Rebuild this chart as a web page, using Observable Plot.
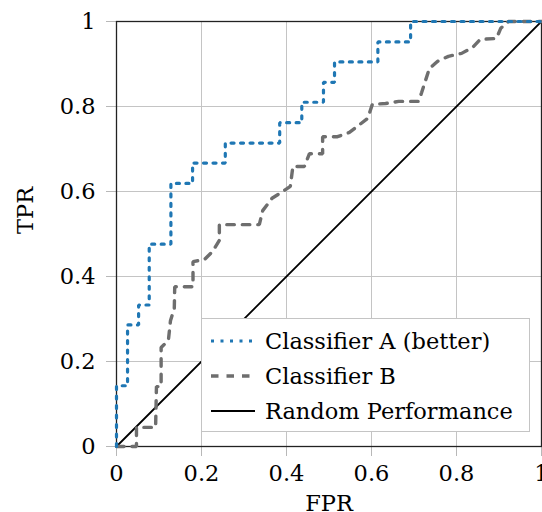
<!DOCTYPE html>
<html>
<head>
<meta charset="utf-8">
<script src="https://cdn.jsdelivr.net/npm/d3@7"></script>
<script src="https://cdn.jsdelivr.net/npm/@observablehq/plot@0.6"></script>
<style>
  body { margin: 0; background: #fff; }
  #wrap { position: relative; width: 542px; height: 512px; overflow: hidden; font-family: "DejaVu Serif", serif; }
  #legend { position: absolute; left: 201px; top: 318px; width: 329px; height: 114px; box-sizing: border-box;
            border: 1px solid #c4c4c4; background: #fff; }
  .entry { position: absolute; left: 9px; height: 30px; display: flex; align-items: center; font-size: 22.5px; color: #000; white-space: nowrap; }
  .entry svg { margin-right: 10px; }
</style>
</head>
<body>
<div id="wrap"></div>
<script>
// ---- data ----
const fprA = [0, 0, 0.026, 0.026, 0.052, 0.052, 0.077, 0.077, 0.128, 0.128, 0.179, 0.179, 0.256, 0.256, 0.384, 0.384, 0.436, 0.436, 0.487, 0.487, 0.513, 0.513, 0.615, 0.615, 0.692, 0.692, 1];
const tprA = [0, 0.143, 0.143, 0.286, 0.286, 0.333, 0.333, 0.476, 0.476, 0.619, 0.619, 0.667, 0.667, 0.714, 0.714, 0.762, 0.762, 0.810, 0.810, 0.857, 0.857, 0.905, 0.905, 0.952, 0.952, 1, 1];

const fprB = [0, 0.047, 0.047, 0.092, 0.094, 0.105, 0.105, 0.122, 0.127, 0.136, 0.137, 0.18, 0.18, 0.207, 0.226, 0.242, 0.242, 0.336, 0.344, 0.366, 0.388, 0.409, 0.415, 0.442, 0.454, 0.485, 0.485, 0.52, 0.548, 0.569, 0.591, 0.602, 0.633, 0.664, 0.711, 0.718, 0.727, 0.736, 0.755, 0.781, 0.812, 0.838, 0.856, 0.894, 0.904, 0.922, 1];
const tprB = [0, 0, 0.045, 0.045, 0.141, 0.141, 0.233, 0.249, 0.296, 0.325, 0.376, 0.376, 0.435, 0.44, 0.459, 0.485, 0.522, 0.522, 0.555, 0.584, 0.598, 0.612, 0.659, 0.659, 0.689, 0.689, 0.729, 0.729, 0.739, 0.755, 0.772, 0.805, 0.807, 0.812, 0.812, 0.833, 0.861, 0.889, 0.906, 0.918, 0.925, 0.939, 0.958, 0.96, 0.984, 1, 1];

const fprRandom = [0, 1];
const tprRandom = [0, 1];

const tickValues = [0, 0.2, 0.4, 0.6, 0.8, 1];
const tickLabels = ["0", "0.2", "0.4", "0.6", "0.8", "1"];
const seriesNames = ["Classifier A (better)", "Classifier B", "Random Performance"];
const seriesColors = ["#1f77b4", "#6e6e6e", "#000000"];
const seriesDash = ["3 6.5", "7.5 8", null];
const seriesWidth = [3.2, 3.4, 1.8];
const axisLabels = ["FPR", "TPR"];

const A = fprA.map((x, i) => ({x, y: tprA[i]}));
const B = fprB.map((x, i) => ({x, y: tprB[i]}));
const R = fprRandom.map((x, i) => ({x, y: tprRandom[i]}));
const fmt = d => tickLabels[tickValues.indexOf(d)] ?? String(d);

const chart = Plot.plot({
  width: 542,
  height: 512,
  marginLeft: 116,
  marginRight: 1,
  marginTop: 21,
  marginBottom: 66,
  style: { fontFamily: "DejaVu Serif, serif", fontSize: "22px", background: "#fff", color: "#000" },
  x: { domain: [0, 1] },
  y: { domain: [0, 1] },
  marks: [
    Plot.gridX(tickValues, { stroke: "#c4c4c4", strokeOpacity: 1, strokeWidth: 1 }),
    Plot.gridY(tickValues, { stroke: "#c4c4c4", strokeOpacity: 1, strokeWidth: 1 }),
    Plot.axisX(tickValues, { tickSize: 10, tickPadding: 9, tickFormat: fmt, stroke: "#b8b8b8", fill: "#000", fontSize: 22.5, label: null }),
    Plot.axisY(tickValues, { tickSize: 10, tickPadding: 11, tickFormat: fmt, stroke: "#b8b8b8", fill: "#000", fontSize: 22.5, label: null }),
    Plot.frame({ stroke: "#222", strokeWidth: 1.3 }),
    Plot.line(R, { x: "x", y: "y", stroke: seriesColors[2], strokeWidth: seriesWidth[2] }),
    Plot.line(B, { x: "x", y: "y", stroke: seriesColors[1], strokeWidth: seriesWidth[1], strokeDasharray: seriesDash[1], strokeLinejoin: "miter" }),
    Plot.line(A, { x: "x", y: "y", stroke: seriesColors[0], strokeWidth: seriesWidth[0], strokeDasharray: seriesDash[0], strokeLinejoin: "miter" }),
    Plot.text([axisLabels[0]], { text: d => d, frameAnchor: "bottom", dy: 49, lineAnchor: "top", fontSize: 22.5, fill: "#000" }),
    Plot.text([axisLabels[1]], { text: d => d, frameAnchor: "left", dx: -91, rotate: -90, fontSize: 22.5, fill: "#000" })
  ]
});

const wrap = document.getElementById("wrap");
wrap.appendChild(chart);

// legend overlay
const legend = document.createElement("div");
legend.id = "legend";
const tops = [7, 42, 77];
seriesNames.forEach((name, i) => {
  const e = document.createElement("div");
  e.className = "entry";
  e.style.top = tops[i] + "px";
  const dash = seriesDash[i] ? `stroke-dasharray="${seriesDash[i]}"` : "";
  e.innerHTML = `<svg width="44" height="10"><line x1="0" y1="5" x2="44" y2="5" stroke="${seriesColors[i]}" stroke-width="${seriesWidth[i]}" ${dash}/></svg><span>${name}</span>`;
  legend.appendChild(e);
});
wrap.appendChild(legend);
</script>
</body>
</html>
